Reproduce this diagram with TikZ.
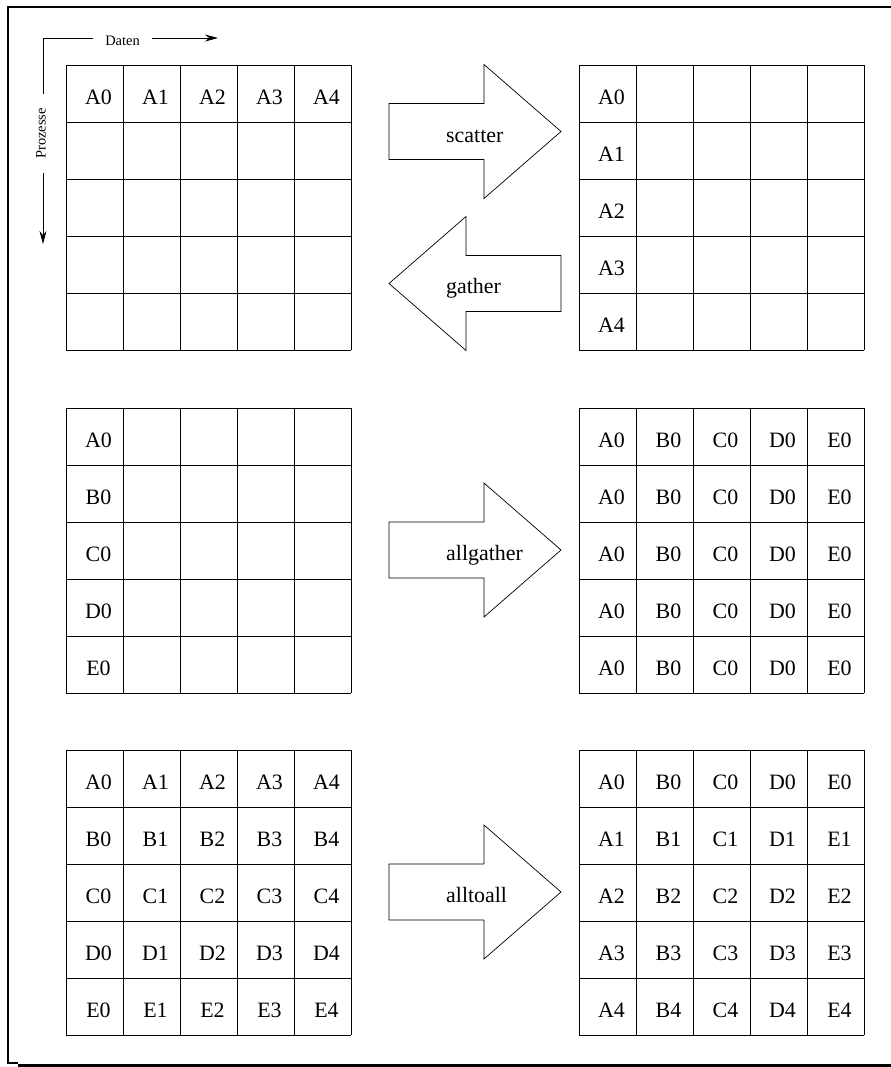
\documentclass[tikz,border=0pt]{standalone}
\usepackage{fontspec}
\setmainfont{Liberation Serif}
\usetikzlibrary{arrows.meta}
\begin{document}
\begin{tikzpicture}[x=1bp,y=-1bp,
  gridline/.style={line width=0.9bp},
  celltext/.style={font=\fontsize{22}{26}\selectfont, inner sep=0pt, anchor=center, text height=14bp, text depth=0bp},
  blockarrow/.style={line width=0.7bp, fill=white, line join=miter},
  arrowlabel/.style={font=\fontsize{22}{26}\selectfont, inner sep=0pt, anchor=base west},
  axislabel/.style={font=\fontsize{14.5}{17}\selectfont, inner ysep=0pt},
  axisline/.style={line width=0.8bp},
  frameline/.style={line width=2.3bp}]
\useasboundingbox (0,0) rectangle (891,1067);

% frame
\draw[frameline] (18,1063) -- (8,1063) -- (8,7) -- (891,7);
\draw[line width=3bp] (18,1065) -- (891,1065);

% axes
\coordinate (corner) at (43,38);
\node[axislabel, inner xsep=12bp] (daten) at (122.5,41) {Daten};
\node[axislabel, inner xsep=14bp, rotate=90] (proz) at (41,133.5) {Prozesse};
\coordinate (dend) at (218,38);
\coordinate (pend) at (43,244);
\draw[axisline] (corner -| daten.west) -- (corner) -- (corner |- proz.east);
\draw[axisline, -{Stealth[length=13bp,width=7bp]}] (corner -| daten.east) -- (dend);
\draw[axisline, -{Stealth[length=13bp,width=7bp]}] (corner |- proz.west) -- (pend);

% grid lines
\foreach \gx/\gy in {66/65, 579/65, 66/408, 579/408, 66/750, 579/750} {
  \foreach \i in {0,...,5} {
    \draw[gridline] (\gx+57*\i, \gy) -- (\gx+57*\i, \gy+285);
    \draw[gridline] (\gx, \gy+57*\i) -- (\gx+285, \gy+57*\i);
  }
}

% cell texts
\foreach \c in {0,...,4} {
  \node[celltext] (la-0-\c) at (66+57*\c+32.5, 65+32) {A\c};
  \node[celltext] (ra-\c-0) at (579+32.5, 65+57*\c+32) {A\c};
}
\foreach \r/\L in {0/A,1/B,2/C,3/D,4/E} {
  \node[celltext] (lb-\r-0) at (66+32.5, 408+57*\r+32) {\L0};
  \foreach \c/\M in {0/A,1/B,2/C,3/D,4/E} {
    \node[celltext] (rb-\r-\c) at (579+57*\c+32.5, 408+57*\r+32) {\M0};
    \node[celltext] (lc-\r-\c) at (66+57*\c+32.5, 750+57*\r+32) {\L\c};
    \node[celltext] (rc-\r-\c) at (579+57*\c+32.5, 750+57*\r+32) {\M\r};
  }
}

% block arrows
\draw[blockarrow, shift={(0,131.5)}] (389,-28) -- (484,-28) -- (484,-67) -- (561,0) -- (484,67) -- (484,28) -- (389,28) -- cycle;
\draw[blockarrow, shift={(0,283.5)}] (561,-28) -- (466,-28) -- (466,-67) -- (389,0) -- (466,67) -- (466,28) -- (561,28) -- cycle;
\draw[blockarrow, shift={(0,550)}] (389,-28) -- (484,-28) -- (484,-67) -- (561,0) -- (484,67) -- (484,28) -- (389,28) -- cycle;
\draw[blockarrow, shift={(0,892)}] (389,-28) -- (484,-28) -- (484,-67) -- (561,0) -- (484,67) -- (484,28) -- (389,28) -- cycle;

\node[arrowlabel] (scatter) at (446,142.5) {scatter};
\node[arrowlabel] (gather) at (446,293) {gather};
\node[arrowlabel] (allgather) at (446,560.5) {allgather};
\node[arrowlabel] (alltoall) at (446,902.5) {alltoall};
\end{tikzpicture}
\end{document}
